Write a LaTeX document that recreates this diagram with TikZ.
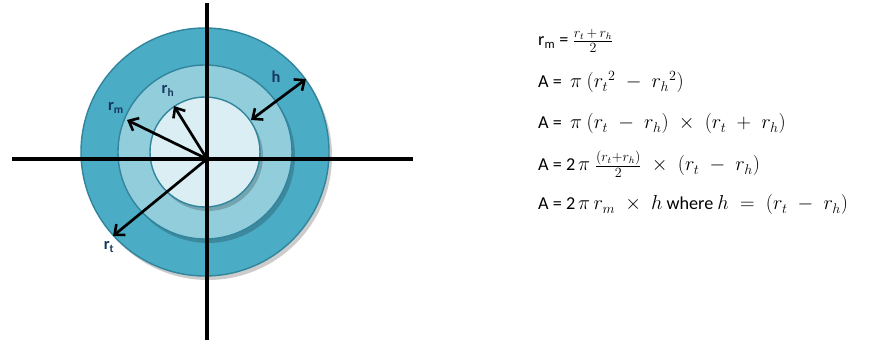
\documentclass[tikz,border=0pt]{standalone}
\usepackage{amsmath, amssymb}
\usepackage{fontspec}
\setmainfont{Carlito}
\usepackage{tikz}
\usetikzlibrary{calc, positioning, arrows.meta}
\usepackage{xcolor}
\definecolor{ringT}{RGB}{75, 172, 198}
\definecolor{ringM}{RGB}{146, 205, 220}
\definecolor{ringH}{RGB}{218, 238, 243}
\definecolor{ringEdge}{RGB}{49, 133, 156}
\definecolor{lblNavy}{RGB}{23, 55, 94}
\newcommand{\rsub}[1]{r\textsubscript{#1}}
\newcommand{\fm}[1]{{\fontsize{17}{20}\selectfont$#1$}}

\begin{document}
\begin{tikzpicture}[x=0.3mm, y=-0.3mm,
  ring/.style={draw=ringEdge, line width=1.2pt},
  ringshadow/.style={fill=black, opacity=0.2},
  axis/.style={line width=2.8pt, black},
  barb/.tip={Straight Barb[length=7pt, width=12pt, line width=2.2pt]},
  radius arrow/.style={line width=2.3pt, -barb},
  ringlabel/.style={font=\fontsize{14}{16}\selectfont\bfseries, text=lblNavy, inner sep=0pt},
  formula/.style={font=\fontsize{15.5}{18}\selectfont, anchor=base west, inner sep=0pt}]
  \useasboundingbox (0,0) rectangle (876,347);

  % --- Rings (outer r_t, middle r_m, inner r_h) ---
  \fill[ringshadow] (208,156) circle (124);
  \fill[ringT] (205,152) circle (124);
  \draw[ring] (205,152) circle (124);
  \fill[ringshadow] (208,156) circle (87);
  \fill[ringM] (205,152) circle (87);
  \draw[ring] (205,152) circle (87);
  \fill[ringshadow] (208,156) circle (55);
  \fill[ringH] (205,152) circle (55);
  \draw[ring] (205,152) circle (55);

  % --- Axes ---
  \coordinate (xLeft) at (12,159);
  \coordinate (xRight) at (413,159);
  \coordinate (yTop) at (207,3);
  \coordinate (yBottom) at (207,340);
  \draw[axis] (xLeft) -- (xRight);
  \draw[axis] (yTop) -- (yBottom);

  % --- Radii ---
  \coordinate (o) at (207,159);
  \coordinate (tipM) at (127,120);
  \coordinate (tipH) at (174,106);
  \coordinate (tipT) at (113,236);
  \coordinate (hIn) at (251,120);
  \coordinate (hOut) at (306,79);
  \draw[radius arrow] (o) -- (tipM);
  \draw[radius arrow] (o) -- (tipH);
  \draw[radius arrow] (o) -- (tipT);
  \draw[radius arrow, barb-barb] (hIn) -- (hOut);

  \node[ringlabel] (lblM) at (116,108) {\rsub{m}};
  \node[ringlabel] (lblH) at (168,91) {\rsub{h}};
  \node[ringlabel] (lblT) at (109,247) {\rsub{t}};
  \node[ringlabel] (lblHt) at (276,77) {h};

  % --- Formulas ---
  \node[formula] (eqM) at (538,46) {\rsub{m} = \fm{\frac{r_t\,+\,r_h}{2}}};
  \node[formula] (eqA) at (538,88) {A = \ \fm{\pi\ ({r_t}^{2} \;-\; {r_h}^{2})}};
  \node[formula] (eqB) at (538,129) {A = \ \fm{\pi\ (r_t \;-\; r_h) \;\times\; (r_t \;+\; r_h)}};
  \node[formula] (eqC) at (538,171) {A = 2\,\fm{\pi\ \frac{(r_t+r_h)}{2} \;\times\; (r_t \;-\; r_h)}};
  \node[formula] (eqD) at (538,210) {A = 2\,\fm{\pi\, r_m \;\times\; h} where \fm{h \;=\; (r_t \;-\; r_h)}};
\end{tikzpicture}
\end{document}
